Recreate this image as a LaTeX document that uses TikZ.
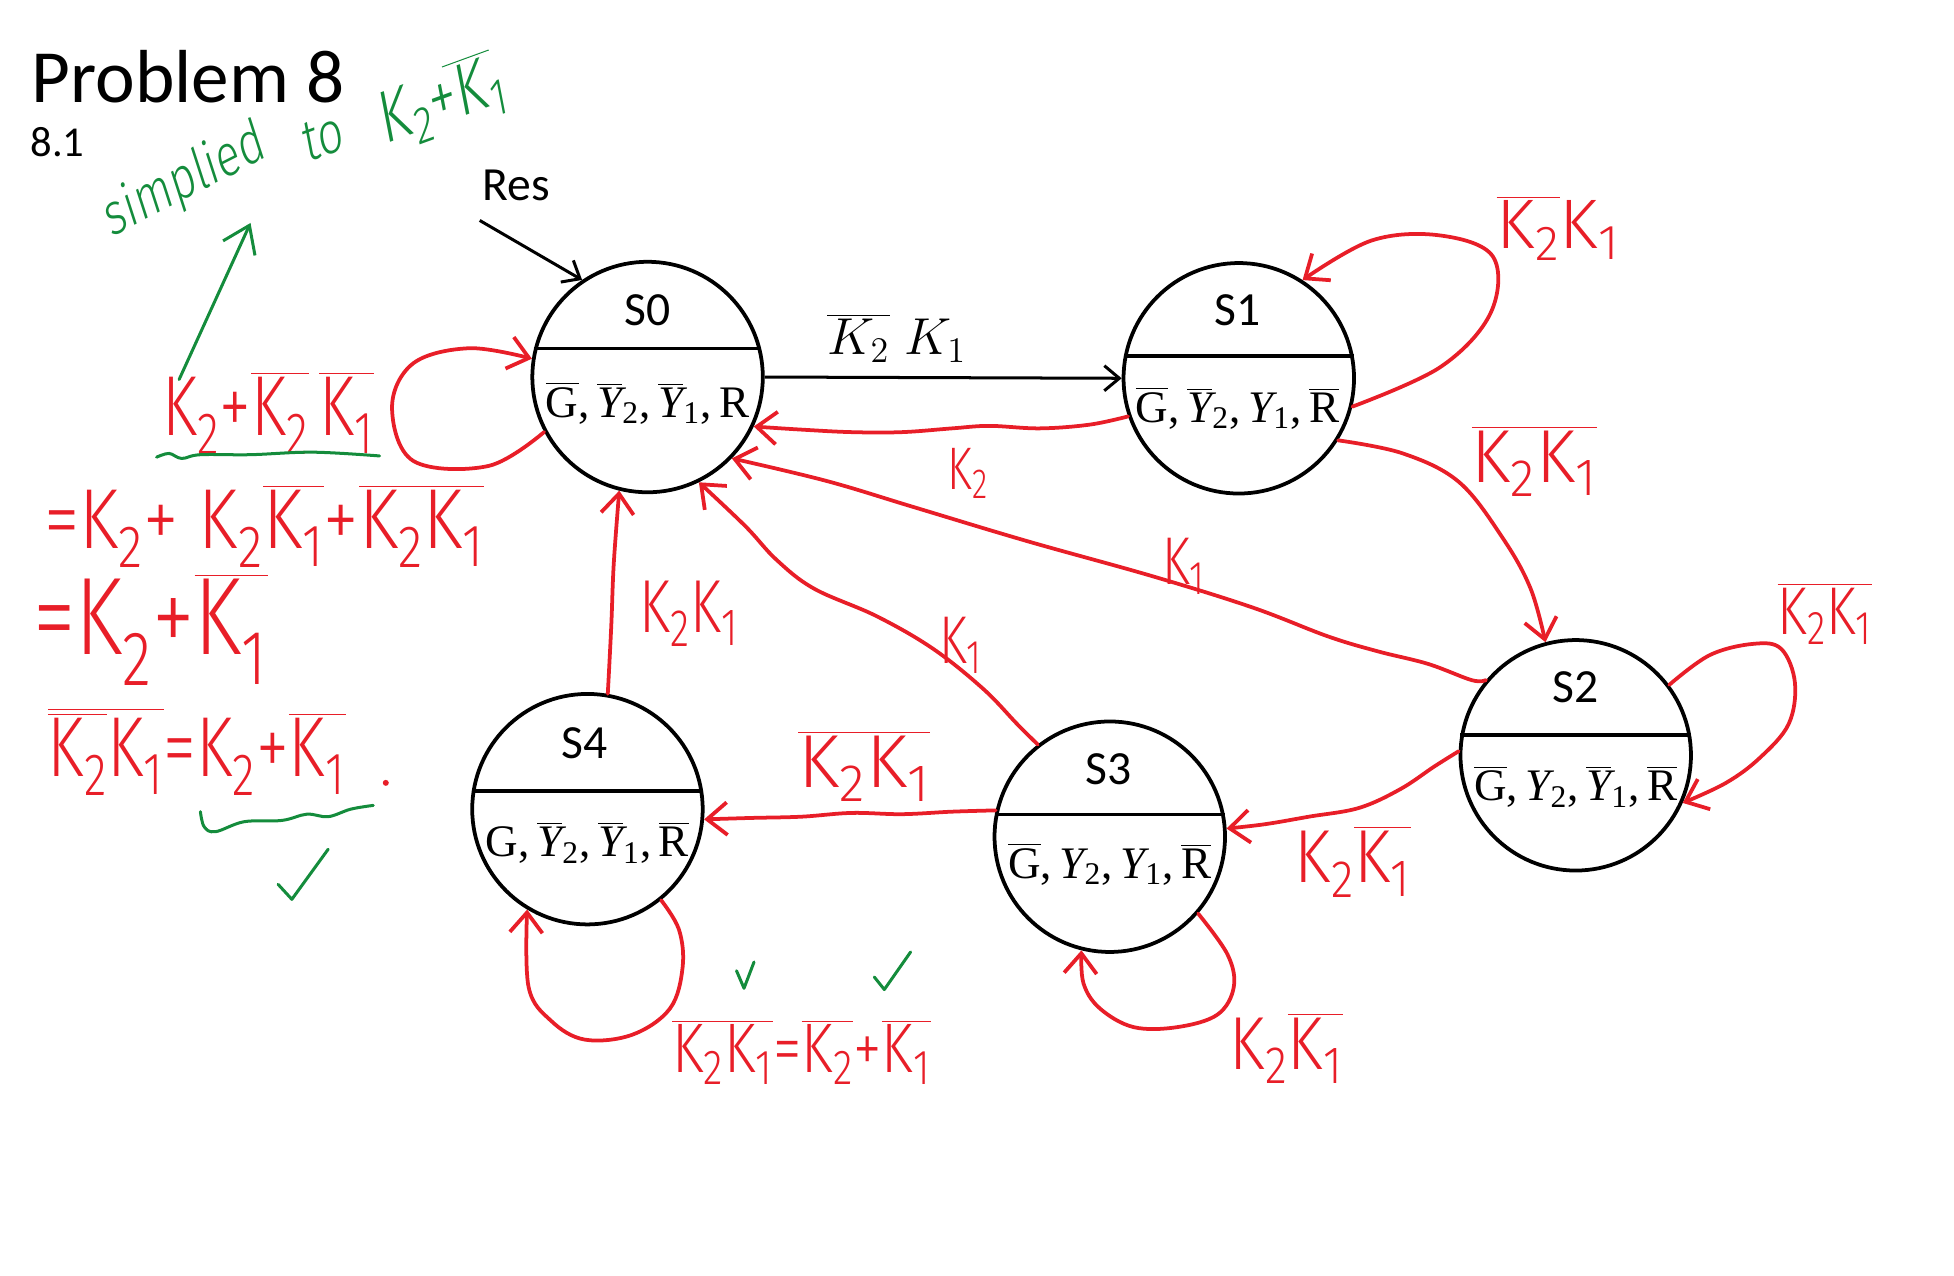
\documentclass[tikz,border=0pt]{standalone}
\usepackage{fontspec}
\usepackage{graphicx}
\usetikzlibrary{arrows.meta}
\newfontfamily\calf{Carlito}
\newfontfamily\hwf{Fira Sans Light}
\newfontfamily\gwf{Fira Sans Light}[FakeSlant=0.2]
\newfontfamily\serf{Liberation Serif}
\definecolor{hred}{RGB}{232,30,40}
\definecolor{hgreen}{RGB}{20,140,60}
\newcommand\Kx[1]{K\textsubscript{#1}}
\newcommand\ob[1]{$\overline{\hbox{#1}}$}
\newcommand\Yx[1]{{\itshape Y}\textsubscript{#1}}
\newcommand\Ybx[1]{\ob{\itshape Y}\textsubscript{#1}}
\newcommand\hw[3]{\hwf\fontsize{#1}{#1}\selectfont\scalebox{#2}[1]{#3}}
\newcommand\gw[1]{\scalebox{0.8}[1]{#1}}
\begin{document}
\begin{tikzpicture}[x=0.5pt,y=-0.5pt,
  state/.style={circle,draw,line width=1.5pt,minimum size=92pt,inner sep=0pt},
  sname/.style={font=\calf\fontsize{19}{19}\selectfont,inner sep=0pt},
  souts/.style={font=\serf\fontsize{18}{18}\selectfont,inner sep=0pt},
  bline/.style={line width=1.4pt},
  blk/.style={line width=1.2pt,-{Straight Barb[length=6pt,width=10pt]}},
  rarrow/.style={draw=hred,line width=1.5pt,line cap=round,-{Straight Barb[length=8pt,width=13pt]}},
  hwn/.style={text=hred,inner sep=0pt},
  gwn/.style={text=hgreen,inner sep=0pt,font=\gwf\fontsize{23}{23}\selectfont},
  gline/.style={draw=hgreen,line width=1.2pt,line cap=round,line join=round},
  garrow/.style={gline,-{Straight Barb[length=10pt,width=14pt]}},
]
\useasboundingbox (0,0) rectangle (1560,1018);

% titles
\node[anchor=base west,font=\calf\fontsize{30}{30}\selectfont,inner sep=0pt] (title) at (25,82) {Problem 8};
\node[anchor=base west,font=\calf\fontsize{17}{17}\selectfont,inner sep=0pt] (sub) at (24,125) {8.1};
\node[sname] (res) at (412,148) {Res};

% states
\node[state] (S0) at (517,301) {};
\node[sname] (S0n) at (517,248) {S0};
\node[souts] (S0o) at (517,322) {\ob{G},\,\Ybx2,\,\Ybx1,\,R};
\draw[bline] (S0.166) -- (S0.14);

\node[state] (S1) at (989,302) {};
\node[sname] (S1n) at (988,248) {S1};
\node[souts] (S1o) at (988,326) {\ob{G},\,\Ybx2,\,\Yx1,\,\ob{R}};
\draw[bline] (S1.169) -- (S1.11);

\node[state] (S2) at (1258,603) {};
\node[sname] (S2n) at (1258,549) {S2};
\node[souts] (S2o) at (1258,628) {\ob{G},\,\Yx2,\,\Ybx1,\,\ob{R}};
\draw[bline] (S2.170) -- (S2.10);

\node[state] (S3) at (886,668) {};
\node[sname] (S3n) at (885,614) {S3};
\node[souts] (S3o) at (886,690) {\ob{G},\,\Yx2,\,\Yx1,\,\ob{R}};
\draw[bline] (S3.169) -- (S3.11);

\node[state] (S4) at (469,646) {};
\node[sname] (S4n) at (467,593) {S4};
\node[souts] (S4o) at (469,673) {G,\,\Ybx2,\,\Ybx1,\,\ob{R}};
\draw[bline] (S4.171) -- (S4.9);

% black connectors
\coordinate (resstart) at (383,176);
\draw[blk] (resstart) -- (S0.124);
\draw[blk] (S0.east) -- (S1.west);
\node[font=\fontsize{20}{20}\selectfont,inner sep=0pt] (l01) at (716,270) {$\overline{K_2}\;K_1$};

% red connectors
\draw[rarrow] plot[smooth,tension=0.6] coordinates {(S0.208) (390,372) (330,368) (313,325) (330,290) (375,278) (S0.171)};
\draw[rarrow] plot[smooth,tension=0.6] coordinates {(S1.199) (870,339) (830,342) (790,340) (760,342) (720,345) (680,345) (640,343) (S0.-25)};
\draw[rarrow] plot[smooth,tension=0.6] coordinates {(S1.-14) (1150,293) (1190,250) (1192,205) (1150,188) (1095,192) (S1.57)};
\draw[rarrow] plot[smooth,tension=0.6] coordinates {(S1.-32) (1120,362) (1165,385) (1200,430) (1222,470) (S2.105)};
\draw[rarrow] plot[smooth,tension=0.6] coordinates {(S2.140) (1175,543) (1140,530) (1100,520) (1060,508) (1000,485) (920,460) (820,432) (730,405) (660,384) (S0.-44)};
\draw[rarrow] plot[smooth,tension=0.6] coordinates {(S2.37) (1365,523) (1400,514) (1422,518) (1433,545) (1428,578) (1405,605) (1378,625) (S2.-24)};
\draw[rarrow] plot[smooth,tension=0.6] coordinates {(S2.178) (1145,612) (1118,630) (1085,645) (1045,652) (1010,658) (S3.4)};
\draw[rarrow] plot[smooth,tension=0.6] coordinates {(S3.128) (812,578) (785,550) (745,518) (700,492) (650,470) (620,447) (595,420) (S0.-64)};
\draw[rarrow] plot[smooth,tension=0.6] coordinates {(S3.167) (760,648) (720,650) (680,649) (640,652) (600,653) (S4.-5)};
\draw[rarrow] plot[smooth,tension=0.6] coordinates {(S4.80) (488,500) (490,450) (S0.256)};
\draw[rarrow] plot[smooth,tension=0.6] coordinates {(S4.-51) (542,742) (545,772) (535,805) (505,826) (467,830) (440,815) (422,788) (S4.239)};
\draw[rarrow] plot[smooth,tension=0.6] coordinates {(S3.-41) (980,762) (985,788) (972,810) (940,820) (905,820) (878,805) (865,785) (S3.256)};

% red labels
\node[hwn] (eqa) at (214,330) {\hw{34}{0.75}{\Kx2+\ob{\Kx2}\,\ob{\Kx1}}};
\node[hwn] (eqb) at (211,420) {\hw{34}{0.84}{=\Kx2+ \Kx2\ob{\Kx1}+\ob{\Kx2}\ob{\Kx1}}};
\node[hwn] (eqc) at (120,503) {\hw{44}{0.78}{=\Kx2+\ob{\Kx1}}};
\node[hwn] (eqd) at (157,600) {\hw{34}{0.78}{$\overline{\hbox{\ob{\Kx2}\Kx1}}$=\Kx2+\ob{\Kx1}}};
\fill[hred] (308,625) circle (1.2pt);
\node[hwn] (lf) at (1244,182) {\hw{28}{1.0}{\ob{\Kx2}\Kx1}};
\node[hwn] (lg) at (773,378) {\hw{24}{0.75}{\Kx2}};
\node[hwn] (lh) at (1225,368) {\hw{30}{0.95}{\ob{\Kx2}\ob{\Kx1}}};
\node[hwn] (li) at (945,452) {\hw{27}{0.75}{\Kx1}};
\node[hwn] (lj) at (1457,490) {\hw{27}{0.8}{\ob{\Kx2}\ob{\Kx1}}};
\node[hwn] (lk) at (550,490) {\hw{30}{0.75}{\Kx2\Kx1}};
\node[hwn] (ll) at (767,515) {\hw{27}{0.75}{\Kx1}};
\node[hwn] (lm) at (690,612) {\hw{30}{1.0}{\ob{\Kx2}\ob{\Kx1}}};
\node[hwn] (ln) at (1080,688) {\hw{30}{0.88}{\Kx2\ob{\Kx1}}};
\node[hwn] (lo) at (1027,837) {\hw{30}{0.86}{\Kx2\ob{\Kx1}}};
\node[hwn] (lp) at (640,840) {\hw{28}{0.82}{$\overline{\hbox{\Kx2\Kx1}}$=\ob{\Kx2}+\ob{\Kx1}}};

% green annotations
\node[gwn,rotate=27] (simp1) at (146,146) {\gw{simplied}};
\node[gwn,rotate=20] (simp2) at (256,110) {\gw{to}};
\node[gwn,rotate=20,font=\gwf\fontsize{29}{29}\selectfont] (simp3) at (350,82) {\gw{\Kx2+\ob{\Kx1}}};
\coordinate (gstart) at (143,303);
\coordinate (gend) at (200,178);
\draw[garrow] (gstart) -- (gend);
\draw[gline] plot[smooth,tension=0.6] coordinates {(125,365) (135,362) (145,366) (160,363) (200,363) (250,361) (303,364)};
\draw[gline] plot[smooth,tension=0.6] coordinates {(160,648) (163,660) (172,664) (195,656) (225,655) (245,650) (262,652) (280,646) (298,643)};
\draw[gline] (222,706) -- (233,718) -- (262,678);
\draw[gline] (588,775) -- (594,789) -- (602,768);
\draw[gline] (698,780) -- (706,790) -- (727,760);
\end{tikzpicture}
\end{document}
